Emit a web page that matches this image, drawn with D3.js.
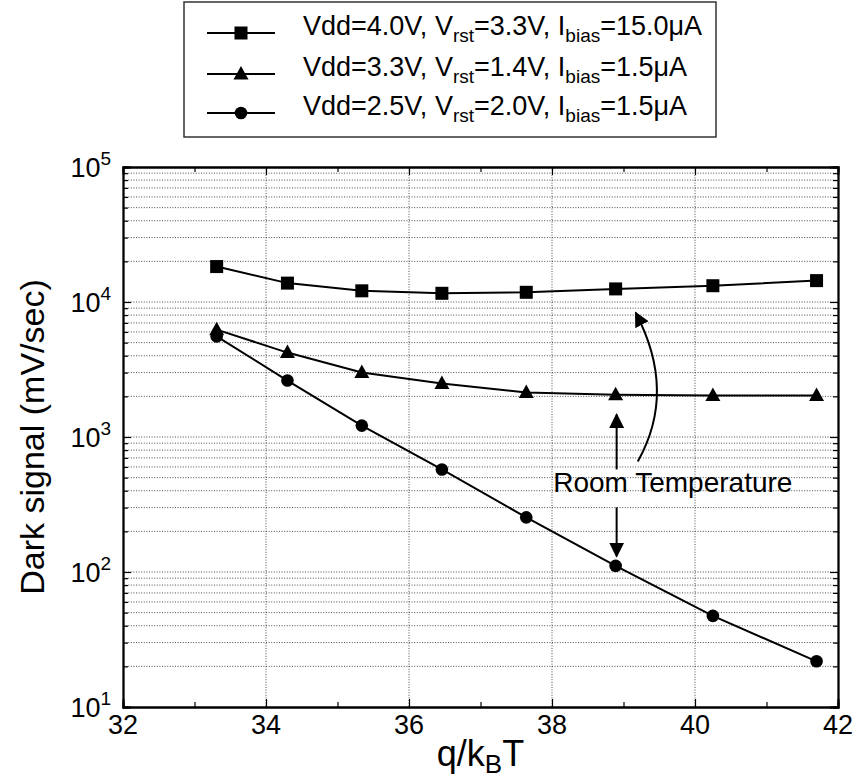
<!DOCTYPE html>
<html>
<head>
<meta charset="utf-8">
<script src="https://cdn.jsdelivr.net/npm/d3@7"></script>
<style>
  body { margin: 0; background: #fff; }
  text { font-family: "Liberation Sans", Arial, Helvetica, sans-serif; fill: #000; }
</style>
</head>
<body>
<svg id="chart" width="855" height="779"></svg>
<script>
// Inverse temperature q/kBT of each measurement
const invTemp = [33.31, 34.30, 35.34, 36.46, 37.64, 38.89, 40.25, 41.70];
// Dark signal (mV/sec) for each operating condition
const darkHigh = [18300, 13800, 12100, 11600, 11800, 12500, 13200, 14400];
const darkMid  = [6240, 4220, 3000, 2490, 2140, 2060, 2030, 2030];
const darkLow  = [5560, 2620, 1215, 575, 254, 111, 47.3, 21.8];
// Operating conditions shown in the legend
const vddValues  = ["4.0", "3.3", "2.5"];
const vrstValues = ["3.3", "1.4", "2.0"];
const ibiasValues = ["15.0", "1.5", "1.5"];
const markerShapes = ["square", "triangle", "circle"];
// Axis ticks
const xTickValues = [32, 34, 36, 38, 40, 42];
const xMinorTicks = [33, 35, 37, 39, 41];
const yDecades = [1, 2, 3, 4, 5];

const svg = d3.select("#chart");
const plot = { left: 123, top: 167, right: 838, bottom: 707 };

const x = d3.scaleLinear().domain([32, 42]).range([plot.left, plot.right]);
const y = d3.scaleLog().domain([10, 1e5]).range([plot.bottom, plot.top]);

// Minor log positions 2..9 in each decade
const yMinor = [];
for (let d = 1; d < 5; d++) for (let m = 2; m <= 9; m++) yMinor.push(m * Math.pow(10, d));
const yMajor = yDecades.map(e => Math.pow(10, e));

// Dotted grid
const grid = svg.append("g").attr("stroke", "#3a3a3a").attr("stroke-width", 0.9)
  .attr("stroke-dasharray", "1,1.6");
grid.selectAll("line.h").data(yMinor.concat(yMajor.slice(1, 4))).join("line")
  .attr("x1", plot.left).attr("x2", plot.right)
  .attr("y1", d => y(d)).attr("y2", d => y(d));
grid.selectAll("line.v").data(xTickValues.slice(1, -1)).join("line")
  .attr("x1", d => x(d)).attr("x2", d => x(d))
  .attr("y1", plot.top).attr("y2", plot.bottom);

// Axes with inward ticks on all four sides
const axG = svg.append("g");
axG.append("g").attr("transform", `translate(0,${plot.bottom})`)
  .call(d3.axisBottom(x).tickValues(xTickValues).tickSize(-8).tickFormat(""));
axG.append("g").attr("transform", `translate(0,${plot.bottom})`)
  .call(d3.axisBottom(x).tickValues(xMinorTicks).tickSize(-5).tickFormat(""));
axG.append("g").attr("transform", `translate(0,${plot.top})`)
  .call(d3.axisTop(x).tickValues(xTickValues).tickSize(-8).tickFormat(""));
axG.append("g").attr("transform", `translate(0,${plot.top})`)
  .call(d3.axisTop(x).tickValues(xMinorTicks).tickSize(-5).tickFormat(""));
axG.append("g").attr("transform", `translate(${plot.left},0)`)
  .call(d3.axisLeft(y).tickValues(yMajor).tickSize(-8).tickFormat(""));
axG.append("g").attr("transform", `translate(${plot.left},0)`)
  .call(d3.axisLeft(y).tickValues(yMinor).tickSize(-5).tickFormat(""));
axG.append("g").attr("transform", `translate(${plot.right},0)`)
  .call(d3.axisRight(y).tickValues(yMajor).tickSize(-8).tickFormat(""));
axG.append("g").attr("transform", `translate(${plot.right},0)`)
  .call(d3.axisRight(y).tickValues(yMinor).tickSize(-5).tickFormat(""));
axG.selectAll(".domain").attr("stroke", "#000").attr("stroke-width", 1.8);
axG.selectAll(".tick line").attr("stroke", "#000").attr("stroke-width", 1.2);

// Tick labels
svg.append("g").selectAll("text").data(xTickValues).join("text")
  .attr("x", d => x(d)).attr("y", plot.bottom + 27)
  .attr("text-anchor", "middle").attr("font-size", 27).text(d => d);

const yl = svg.append("g").selectAll("text").data(yDecades).join("text")
  .attr("x", plot.left - 12).attr("y", d => y(Math.pow(10, d)) + 10)
  .attr("text-anchor", "end").attr("font-size", 27);
yl.append("tspan").text("10");
yl.append("tspan").attr("dy", -12).attr("font-size", 19).text(d => d);

// Axis titles
const xt = svg.append("text").attr("x", (plot.left + plot.right) / 2).attr("y", 766)
  .attr("text-anchor", "middle").attr("font-size", 36);
xt.append("tspan").text("q/k");
xt.append("tspan").attr("dy", 7).attr("font-size", 26).text("B");
xt.append("tspan").attr("dy", -7).text("T");

svg.append("text")
  .attr("transform", `translate(44,${(plot.top + plot.bottom) / 2}) rotate(-90)`)
  .attr("text-anchor", "middle").attr("font-size", 34).text("Dark signal (mV/sec)");

// Series
const series = [darkHigh, darkMid, darkLow];
const line = d3.line().x((d, i) => x(invTemp[i])).y(d => y(d));

function drawMarker(g, shape, cx, cy) {
  if (shape === "square") {
    g.append("rect").attr("x", cx - 6.5).attr("y", cy - 6.5).attr("width", 13).attr("height", 13);
  } else if (shape === "triangle") {
    g.append("path").attr("d", `M${cx},${cy - 8} L${cx + 7.5},${cy + 5.5} L${cx - 7.5},${cy + 5.5} Z`);
  } else {
    g.append("circle").attr("cx", cx).attr("cy", cy).attr("r", 6.3);
  }
}

series.forEach((vals, k) => {
  svg.append("path").datum(vals).attr("d", line)
    .attr("fill", "none").attr("stroke", "#000").attr("stroke-width", 2);
  const mg = svg.append("g").attr("fill", "#000");
  vals.forEach((v, i) => drawMarker(mg, markerShapes[k], x(invTemp[i]), y(v)));
});

// Annotation: room-temperature point
const ann = svg.append("g");
const defs = svg.append("defs");
defs.append("marker").attr("id", "arrowHead").attr("viewBox", "0 0 10 10")
  .attr("refX", 9).attr("refY", 5).attr("markerWidth", 15).attr("markerHeight", 15)
  .attr("markerUnits", "userSpaceOnUse").attr("orient", "auto")
  .append("path").attr("d", "M0,0 L10,5 L0,10 Z").attr("fill", "#000");

const roomT = invTemp[5];
ann.append("line").attr("x1", x(roomT) + 1).attr("x2", x(roomT) + 1)
  .attr("y1", y(575)).attr("y2", y(1466))
  .attr("stroke", "#000").attr("stroke-width", 2).attr("marker-end", "url(#arrowHead)");
ann.append("line").attr("x1", x(roomT) + 1).attr("x2", x(roomT) + 1)
  .attr("y1", y(301)).attr("y2", y(131))
  .attr("stroke", "#000").attr("stroke-width", 2).attr("marker-end", "url(#arrowHead)");
const c0 = [x(39.20), y(659)], c1 = [x(39.75), y(2170)], c2 = [x(39.17), y(8320)];
ann.append("path").attr("d", `M${c0[0]},${c0[1]} Q${c1[0]},${c1[1]} ${c2[0]},${c2[1]}`)
  .attr("fill", "none").attr("stroke", "#000").attr("stroke-width", 2)
  .attr("marker-end", "url(#arrowHead)");

ann.append("text").attr("x", x(39.69)).attr("y", y(389))
  .attr("text-anchor", "middle").attr("font-size", 28).text("Room Temperature");

// Legend
const lg = svg.append("g");
lg.append("rect").attr("x", 184).attr("y", 2).attr("width", 532).attr("height", 135)
  .attr("fill", "#fff").attr("stroke", "#333").attr("stroke-width", 1.5);
const rowY = [33, 74, 113];
vddValues.forEach((vd, k) => {
  const ry = rowY[k];
  lg.append("line").attr("x1", 207).attr("x2", 275).attr("y1", ry).attr("y2", ry)
    .attr("stroke", "#000").attr("stroke-width", 2);
  const mg = lg.append("g").attr("fill", "#000");
  drawMarker(mg, markerShapes[k], 241, ry);
  const t = lg.append("text").attr("x", 303).attr("y", ry + 2).attr("font-size", 27);
  t.append("tspan").text(`Vdd=${vd}V, V`);
  t.append("tspan").attr("dy", 7).attr("font-size", 19).text("rst");
  t.append("tspan").attr("dy", -7).text(`=${vrstValues[k]}V, I`);
  t.append("tspan").attr("dy", 7).attr("font-size", 19).text("bias");
  t.append("tspan").attr("dy", -7).text(`=${ibiasValues[k]}\u03BCA`);
});
</script>
</body>
</html>
